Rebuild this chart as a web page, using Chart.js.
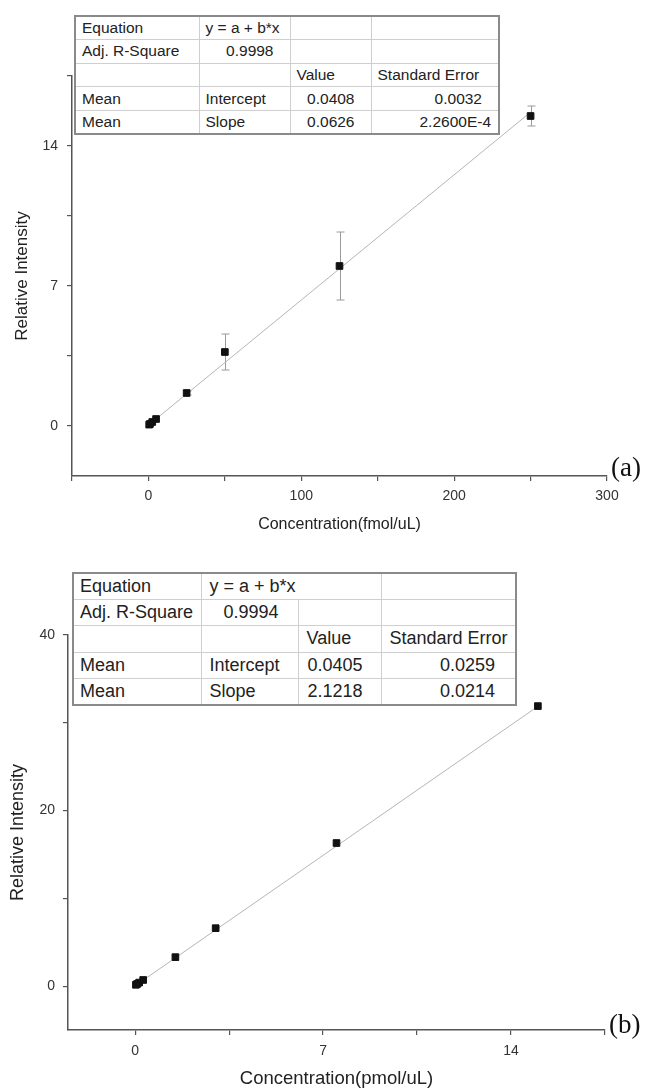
<!DOCTYPE html>
<html>
<head>
<meta charset="utf-8">
<script src="https://cdn.jsdelivr.net/npm/chart.js@4.4.1/dist/chart.umd.min.js"></script>
<style>
  body { margin: 0; background: #fff; width: 646px; height: 1090px; position: relative; overflow: hidden; }
  .wrap { position: absolute; left: 0; width: 646px; height: 545px; }
  .stats { position: absolute; border-collapse: collapse; border: 2px solid #8a8a8a; background: #fff;
    font-family: "Liberation Sans", Arial, sans-serif; color: #222; table-layout: fixed; }
  .stats td { border: 1px solid #cfcfcf; padding: 0 0 0 6px; white-space: nowrap; overflow: hidden; }
  .stats td.num { text-align: right; }
  #tableA { left: 74px; top: 15px; width: 424px; font-size: 15.5px; }
  #tableA tr { height: 23.6px; }
  #tableB { left: 72px; top: 572px; width: 443px; font-size: 18px; }
  #tableB tr { height: 26.4px; }
  .tag { position: absolute; font-family: "Liberation Serif", "Times New Roman", serif; font-size: 27px; color: #111; line-height: 30px; }
</style>
</head>
<body>
<div class="wrap" style="top:0"><canvas id="chartA"></canvas></div>
<div class="wrap" style="top:545px"><canvas id="chartB"></canvas></div>

<table class="stats" id="tableA">
  <colgroup><col style="width:124px"><col style="width:91px"><col style="width:81px"><col style="width:128px"></colgroup>
  <tr><td>Equation</td><td>y = a + b*x</td><td></td><td></td></tr>
  <tr><td>Adj. R-Square</td><td class="num" style="padding-right:16px">0.9998</td><td></td><td></td></tr>
  <tr><td></td><td></td><td>Value</td><td>Standard Error</td></tr>
  <tr><td>Mean</td><td>Intercept</td><td class="num" style="padding-right:16px">0.0408</td><td class="num" style="padding-right:16px">0.0032</td></tr>
  <tr><td>Mean</td><td>Slope</td><td class="num" style="padding-right:16px">0.0626</td><td class="num" style="padding-right:7px">2.2600E-4</td></tr>
</table>

<table class="stats" id="tableB">
  <colgroup><col style="width:128px"><col style="width:97px"><col style="width:83px"><col style="width:135px"></colgroup>
  <tr><td>Equation</td><td colspan="2" style="padding-left:8px">y = a + b*x</td><td></td></tr>
  <tr><td>Adj. R-Square</td><td class="num" style="padding-right:19px">0.9994</td><td></td><td></td></tr>
  <tr><td></td><td></td><td style="padding-left:8px">Value</td><td style="padding-left:8px">Standard Error</td></tr>
  <tr><td>Mean</td><td style="padding-left:8px">Intercept</td><td class="num" style="padding-right:18px">0.0405</td><td class="num" style="padding-right:20px">0.0259</td></tr>
  <tr><td>Mean</td><td style="padding-left:8px">Slope</td><td class="num" style="padding-right:18px">2.1218</td><td class="num" style="padding-right:20px">0.0214</td></tr>
</table>

<div class="tag" style="left:611px;top:452px">(a)</div>
<div class="tag" style="left:609px;top:1009px">(b)</div>

<script>
// Panel (a): fmol/uL
const concA = [0.5, 1, 2.5, 5, 25, 50, 125, 250];
const intensityA = [0.07, 0.1, 0.2, 0.35, 1.65, 3.7, 8.0, 15.5];
const errorA = [0, 0, 0, 0, 0.1, 0.9, 1.7, 0.5];
const fitXA = [0.5, 250];
const fitYA = [0.07, 15.69];

// Panel (b): pmol/uL
const concB = [0.03, 0.075, 0.15, 0.3, 1.5, 3, 7.5, 15];
const intensityB = [0.15, 0.25, 0.4, 0.7, 3.3, 6.6, 16.3, 31.9];
const fitXB = [0.03, 15];
const fitYB = [0.1, 31.87];

const FONT = '"Liberation Sans", Arial, sans-serif';
const AXIS = '#555';

const toPoints = (xs, ys) => xs.map((x, i) => ({ x: x, y: ys[i] }));

// draws vertical error bars under the markers
const errorBars = {
  id: 'errorBars',
  beforeDatasetsDraw(chart) {
    const ds = chart.data.datasets[0];
    if (!ds.errors) return;
    const xs = chart.scales.x;
    const ys = chart.scales.y;
    const ctx = chart.ctx;
    ctx.save();
    ctx.strokeStyle = '#9a9a9a';
    ctx.lineWidth = 1;
    ds.data.forEach((p, i) => {
      const e = ds.errors[i];
      if (!e) return;
      const px = Math.round(xs.getPixelForValue(p.x)) + 0.5;
      const top = ys.getPixelForValue(p.y + e);
      const bot = ys.getPixelForValue(p.y - e);
      ctx.beginPath();
      ctx.moveTo(px, top); ctx.lineTo(px, bot);
      ctx.moveTo(px - 4, top); ctx.lineTo(px + 4, top);
      ctx.moveTo(px - 4, bot); ctx.lineTo(px + 4, bot);
      ctx.stroke();
    });
    ctx.restore();
  }
};

function axis(cfg) {
  return {
    type: 'linear',
    position: cfg.position,
    min: cfg.min,
    max: cfg.max,
    border: { color: AXIS, width: 1.5 },
    grid: { drawOnChartArea: false, drawTicks: true, tickLength: 5, color: AXIS, lineWidth: 1.2 },
    ticks: {
      stepSize: cfg.step,
      includeBounds: false,
      padding: cfg.tickPad,
      color: '#333',
      font: { family: FONT, size: 14 },
      maxRotation: 0,
      autoSkip: false,
      callback: (v) => (Math.abs(v / cfg.every - Math.round(v / cfg.every)) < 1e-6 ? String(v) : '')
    },
    title: {
      display: true,
      text: cfg.title,
      color: '#222',
      font: { family: FONT, size: cfg.titleSize },
      padding: cfg.titlePad
    },
    afterFit: (scale) => {
      if (cfg.position === 'left') scale.width = cfg.fit;
      else scale.height = cfg.fit;
    }
  };
}

function makeChart(id, pts, errs, fit, scales, padding) {
  return new Chart(document.getElementById(id), {
    type: 'scatter',
    data: {
      datasets: [
        {
          data: pts,
          errors: errs,
          pointStyle: 'rect',
          pointRadius: 4.7,
          backgroundColor: '#111',
          borderColor: '#111',
          borderWidth: 1
        },
        {
          data: fit,
          showLine: true,
          borderColor: '#b5b5b5',
          borderWidth: 1,
          pointRadius: 0
        }
      ]
    },
    options: {
      responsive: true,
      maintainAspectRatio: false,
      animation: false,
      layout: { padding: padding },
      plugins: { legend: { display: false }, tooltip: { enabled: false } },
      scales: scales
    },
    plugins: [errorBars]
  });
}

makeChart('chartA', toPoints(concA, intensityA), errorA, toPoints(fitXA, fitYA), {
  x: axis({ position: 'bottom', min: -50, max: 300, step: 50, every: 100, tickPad: 7,
    title: 'Concentration(fmol/uL)', titleSize: 16, titlePad: { top: 0, bottom: 11 }, fit: 69 }),
  y: axis({ position: 'left', min: -2.5, max: 17.5, step: 3.5, every: 7, tickPad: 9,
    title: 'Relative Intensity', titleSize: 17, titlePad: { top: 12, bottom: 0 }, fit: 72 })
}, { top: 76, right: 39, left: 0, bottom: 0 });

makeChart('chartB', toPoints(concB, intensityB), null, toPoints(fitXB, fitYB), {
  x: axis({ position: 'bottom', min: -2.5, max: 17.5, step: 3.5, every: 7, tickPad: 8,
    title: 'Concentration(pmol/uL)', titleSize: 18.5, titlePad: { top: 0, bottom: 0 }, fit: 60 }),
  y: axis({ position: 'left', min: -5, max: 40, step: 10, every: 20, tickPad: 8,
    title: 'Relative Intensity', titleSize: 18, titlePad: { top: 7, bottom: 0 }, fit: 68 })
}, { top: 90, right: 41, left: 0, bottom: 0 });
</script>
</body>
</html>
